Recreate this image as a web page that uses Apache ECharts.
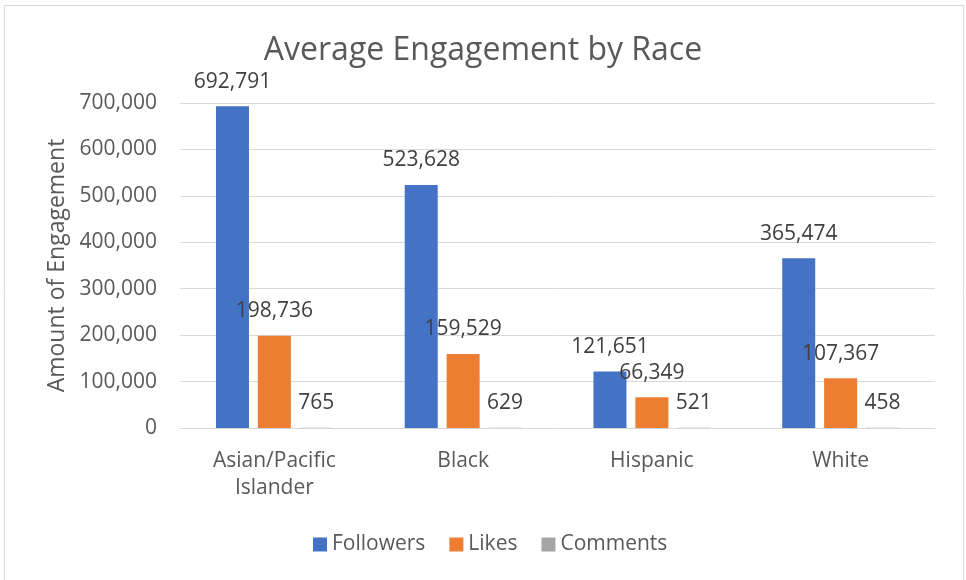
<!DOCTYPE html>
<html>
<head>
<meta charset="utf-8">
<script src="https://cdn.jsdelivr.net/npm/echarts@6/dist/echarts.min.js"></script>
<style>
  html, body { margin: 0; padding: 0; background: #ffffff; }
  #chart { width: 966px; height: 580px; }
</style>
</head>
<body>
<div id="chart"></div>
<script>
// Average engagement per race group
const categories = ['Asian/Pacific\nIslander', 'Black', 'Hispanic', 'White'];
const followers = [692791, 523628, 121651, 365474];
const likes = [198736, 159529, 66349, 107367];
const comments = [765, 629, 521, 458];
const yTicks = { min: 0, max: 700000, interval: 100000 };

const FONT = '"Open Sans", "Noto Sans", sans-serif';
const TEXT = '#595959';
const LABEL = '#404040';
const GRID = '#d9d9d9';

const fmt = v => v.toLocaleString('en-US');

const labelCfg = {
  show: true,
  position: 'top',
  distance: 14,
  color: LABEL,
  fontFamily: FONT,
  fontSize: 21,
  formatter: p => fmt(p.value)
};

function barSeries(name, data, color) {
  return {
    name, type: 'bar', data,
    barWidth: 33, barGap: '27%',
    itemStyle: { color },
    label: labelCfg,
    emphasis: { disabled: true }
  };
}

const chart = echarts.init(document.getElementById('chart'));
chart.setOption({
  animation: false,
  backgroundColor: '#ffffff',
  graphic: [{
    type: 'rect',
    shape: { x: 4.5, y: 5.5, width: 959, height: 600 },
    style: { fill: 'none', stroke: GRID, lineWidth: 1 },
    silent: true
  }],
  title: {
    text: 'Average Engagement by Race',
    left: 'center',
    top: 30,
    textStyle: { color: TEXT, fontFamily: FONT, fontWeight: 'normal', fontSize: 32 }
  },
  legend: {
    bottom: 20,
    left: 308,
    itemWidth: 14, itemHeight: 14, itemGap: 24,
    icon: 'rect',
    textStyle: { color: TEXT, fontFamily: FONT, fontSize: 21 },
    data: ['Followers', 'Likes', 'Comments']
  },
  grid: { left: 180, right: 31, top: 103, bottom: 152, containLabel: false },
  xAxis: {
    type: 'category',
    data: categories,
    axisLine: { lineStyle: { color: GRID, width: 1 } },
    axisTick: { show: false },
    axisLabel: { color: TEXT, fontFamily: FONT, fontSize: 21, margin: 20, lineHeight: 27, interval: 0 }
  },
  yAxis: {
    type: 'value',
    min: yTicks.min, max: yTicks.max, interval: yTicks.interval,
    name: 'Amount of Engagement',
    nameLocation: 'middle',
    nameGap: 110,
    nameTextStyle: { color: TEXT, fontFamily: FONT, fontSize: 23 },
    axisLine: { show: false },
    axisTick: { show: false },
    splitLine: { lineStyle: { color: GRID, width: 1 } },
    axisLabel: { color: TEXT, fontFamily: FONT, fontSize: 21, margin: 23, formatter: v => fmt(v) }
  },
  series: [
    barSeries('Followers', followers, '#4472C4'),
    barSeries('Likes', likes, '#ED7D31'),
    barSeries('Comments', comments, '#A5A5A5')
  ]
});
</script>
</body>
</html>
